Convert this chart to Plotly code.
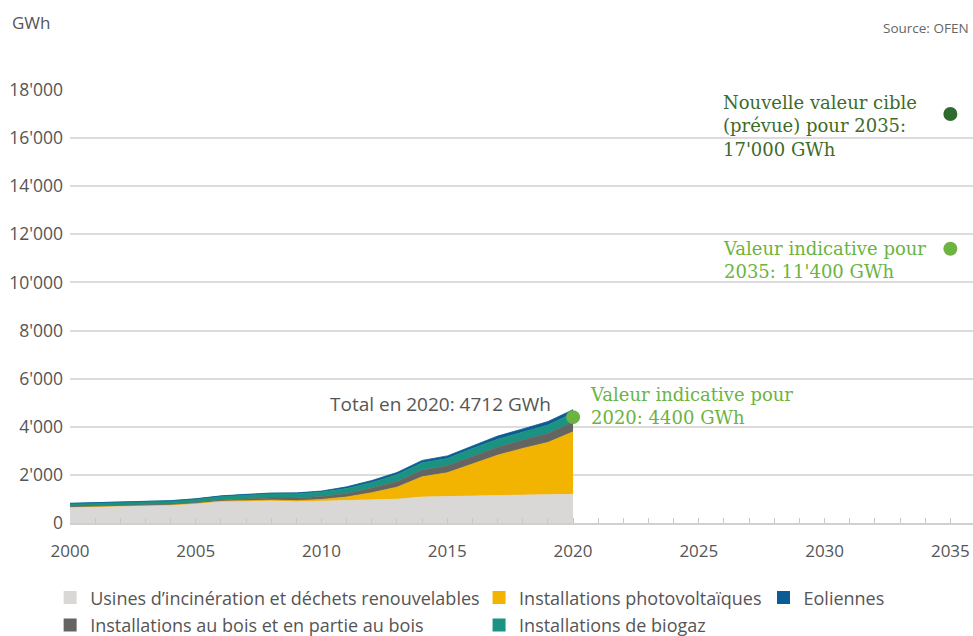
import plotly.graph_objects as go

# Production d'électricité renouvelable (hors hydraulique), GWh
years = list(range(2000, 2021))

usines = [660, 680, 700, 720, 740, 800, 890, 900, 920, 880, 900, 930, 960, 990,
          1080, 1090, 1130, 1140, 1160, 1170, 1190]
photovoltaique = [10, 12, 14, 16, 18, 20, 23, 26, 33, 50, 80, 150, 300, 500,
                  840, 1000, 1330, 1680, 1940, 2180, 2599]
bois = [15, 18, 20, 22, 25, 30, 40, 70, 90, 110, 120, 150, 190, 240,
        280, 290, 320, 330, 350, 370, 410]
biogaz = [130, 132, 135, 138, 140, 150, 160, 180, 185, 190, 190, 205, 230, 280,
          300, 300, 320, 330, 340, 350, 368]
eoliennes = [3, 3, 5, 5, 6, 8, 15, 16, 19, 23, 37, 70, 88, 90,
             101, 110, 109, 133, 122, 146, 145]

# valeurs indicatives / cibles
cible_annees = [2020, 2035]
cible_indicative = [4400, 11400]
cible_nouvelle_annee = [2035]
cible_nouvelle = [17000]

xticks = [2000, 2005, 2010, 2015, 2020, 2025, 2030, 2035]

series = [
    ("Usines d’incinération et déchets renouvelables", usines, "#d9d8d6", "legend"),
    ("Installations photovoltaïques", photovoltaique, "#f2b400", "legend2"),
    ("Installations au bois et en partie au bois", bois, "#646462", "legend"),
    ("Installations de biogaz", biogaz, "#1a9382", "legend2"),
    ("Eoliennes", eoliennes, "#0b5b94", "legend3"),
]

GREEN_LIGHT = "#6cb33f"
GREEN_DARK = "#2f6b2c"
TEXT = "#555555"
SERIF = "DejaVu Serif, serif"
SANS = "Open Sans, sans-serif"

fig = go.Figure()

for name, vals, color, leg in series:
    fig.add_trace(go.Scatter(
        x=years, y=vals, name=name, stackgroup="prod", mode="lines",
        line=dict(color=color, width=0.8), fillcolor=color,
        showlegend=False, hoverinfo="x+y+name"
    ))

# legend entries drawn as squares
legend_order = [series[0], series[2], series[1], series[3], series[4]]
for name, vals, color, leg in legend_order:
    fig.add_trace(go.Scatter(
        x=[None], y=[None], mode="markers", name=name, legend=leg,
        legendgroup=name,
        marker=dict(symbol="square", size=13, color=color),
        showlegend=True
    ))

fig.add_trace(go.Scatter(
    x=cible_annees, y=cible_indicative, mode="markers",
    marker=dict(color=GREEN_LIGHT, size=14), showlegend=False
))
fig.add_trace(go.Scatter(
    x=cible_nouvelle_annee, y=cible_nouvelle, mode="markers",
    marker=dict(color=GREEN_DARK, size=14), showlegend=False
))

annos = [
    dict(text="GWh", xref="paper", yref="paper", x=-0.066, y=1.157,
         xanchor="left", yanchor="middle", font=dict(family=SANS, size=17, color=TEXT)),
    dict(text="Source: OFEN", xref="paper", yref="paper", x=0.998, y=1.143,
         xanchor="right", yanchor="middle", font=dict(family=SANS, size=13.5, color="#666666")),
    dict(text="Total en 2020: 4712 GWh", x=2019.2, y=4950, xanchor="right",
         yanchor="middle", font=dict(family=SANS, size=19, color=TEXT)),
    dict(text="Valeur indicative pour<br>2020: 4400 GWh", x=2020.6, y=4870,
         xanchor="left", yanchor="middle", align="left",
         font=dict(family=SERIF, size=18, color=GREEN_LIGHT)),
    dict(text="Nouvelle valeur cible<br>(prévue) pour 2035:<br>17'000 GWh", x=2025.9, y=16520,
         xanchor="left", yanchor="middle", align="left",
         font=dict(family=SERIF, size=18, color="#3d6b2a")),
    dict(text="Valeur indicative pour<br>2035: 11'400 GWh", x=2025.9, y=10940,
         xanchor="left", yanchor="middle", align="left",
         font=dict(family=SERIF, size=18, color=GREEN_LIGHT)),
]
for a in annos:
    a["showarrow"] = False
    fig.add_annotation(**a)

legend_base = dict(orientation="v", yref="container", yanchor="top", y=0.089,
                   xanchor="left", bgcolor="rgba(0,0,0,0)", tracegroupgap=1,
                   font=dict(family=SANS, size=18, color=TEXT))

fig.update_layout(
    width=973, height=636,
    margin=dict(l=70, r=0, t=90, b=113),
    paper_bgcolor="white", plot_bgcolor="white",
    separators=".'",
    hovermode="closest",
    legend=dict(legend_base, x=-0.022),
    legend2=dict(legend_base, x=0.453),
    legend3=dict(legend_base, x=0.768),
    xaxis=dict(
        range=[2000, 2035.9], tickvals=xticks, showgrid=False,
        ticks="inside", ticklen=5, tickcolor="#c8c8c8",
        minor=dict(dtick=1, ticks="inside", ticklen=5, tickcolor="#c8c8c8"),
        showline=True, linecolor="#d0d0d0", linewidth=1.5,
        tickfont=dict(family=SANS, size=17, color=TEXT), zeroline=False,
        ticklabelstandoff=12,
    ),
    yaxis=dict(
        range=[0, 18000], dtick=2000, tickformat=",d",
        showgrid=True, gridcolor="#dcdcdc", gridwidth=1.5, zeroline=False,
        tickfont=dict(family=SANS, size=17.5, color=TEXT),
        ticks="", ticklabelstandoff=6,
    ),
)

fig.write_html("out.html", config={"displayModeBar": False},
               post_script="document.body.style.margin='0';")
